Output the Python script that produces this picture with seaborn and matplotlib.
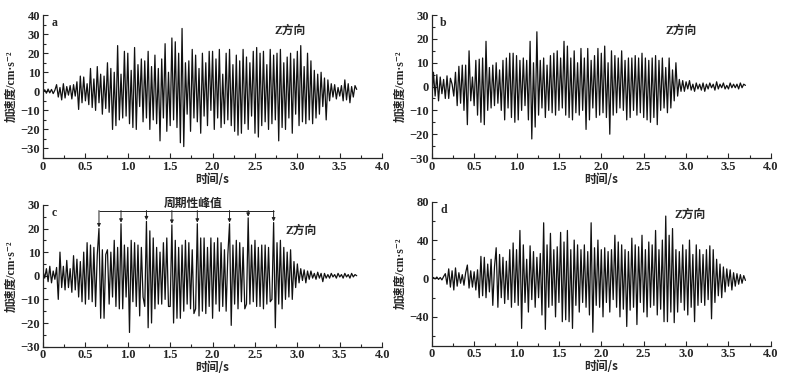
import numpy as np
import matplotlib
matplotlib.use("Agg")
import matplotlib.pyplot as plt
import seaborn as sns
from matplotlib.ticker import MultipleLocator

# --- du lieu gia toc (doc tu hinh), buoc thoi gian 0.02 s ---
dt = 0.02

acc_a = [
    0, 0.8, -1.0, 1.2, -0.8, 1.0, -1.2, 0.6, 3.5, -3.0,
    2.0, -4.5, 4.0, -3.5, 2.5, -2.0, 3.0, -4.0, 3.5, -2.5,
    5.0, -9.5, 8.0, -6.0, 7.5, -5.0, 4.0, -7.0, 12.0, -8.5,
    6.5, -10.0, 13.0, -6.0, 9.0, -12.0, 8.0, -9.0, 15.0, -11.0,
    12.0, -20.0, 10.0, -18.0, 24.0, -15.0, 9.0, -14.0, 21.0, -13.0,
    20.0, -17.0, 11.0, -19.0, 23.0, -20.0, 14.0, -8.0, 17.0, -16.0,
    16.0, -14.0, 21.0, -20.0, 13.0, -15.0, 19.0, -17.0, 12.0, -26.0,
    17.0, -14.0, 25.0, -21.0, 10.0, -18.0, 28.0, -15.0, 26.0, -19.0,
    20.0, -27.0, 33.0, -29.0, 15.0, -12.0, 16.0, -21.0, 22.0, -14.0,
    19.0, -16.0, 12.0, -22.0, 20.0, -13.0, 15.0, -18.0, 21.0, -10.0,
    21.0, -20.0, 17.0, -14.0, 22.0, -19.0, 9.0, -17.0, 20.0, -15.0,
    22.0, -18.0, 14.0, -21.0, 19.0, -23.0, 16.0, -22.0, 22.0, -17.0,
    18.0, -20.0, 15.0, -13.0, 21.0, -22.0, 23.0, -24.0, 20.0, -18.0,
    21.0, -16.0, 14.0, -20.0, 22.0, -17.0, 19.0, -15.0, 20.0, -26.0,
    22.0, -19.0, 15.0, -20.0, 18.0, -14.0, 20.0, -22.0, 17.0, -12.0,
    21.0, -18.0, 24.0, -16.0, 13.0, -17.0, 20.0, -15.0, 16.0, -17.0,
    11.0, -14.0, 9.0, -12.0, 10.0, -8.0, 7.0, -15.0, 6.0, -5.0,
    4.0, -3.0, 3.5, -4.0, 2.0, -2.5, 3.0, -5.0, 6.0, -4.5,
    4.0, -6.0, 2.5, -3.0, 3.0, 1.0,
]

acc_b = [
    -7.0, 6.0, -4.0, 5.0, -6.0, 4.0, -3.0, 3.0, -5.0, 4.5,
    -5.0, 3.5, 1.0, -4.0, 6.0, -8.0, 8.5, -7.0, 9.0, -10.0,
    9.0, -16.0, 15.0, -6.0, 4.0, -8.0, 11.0, -12.0, 11.5, -15.0,
    12.0, -16.0, 19.0, -10.0, 8.0, -9.0, 9.0, -8.0, 10.0, -7.0,
    7.0, -10.0, 11.0, -14.0, 12.0, -9.0, 14.0, -13.0, 14.0, -15.0,
    13.0, -14.0, 11.0, -10.0, 12.0, -8.0, 11.0, -14.0, 19.0, -22.0,
    10.0, -17.0, 23.0, -12.0, 11.0, -9.0, 12.0, -13.0, 9.0, -10.0,
    13.0, -11.0, 14.0, -12.0, 15.0, -10.0, 12.0, -9.0, 19.0, -12.0,
    17.0, -13.0, 12.0, -14.0, 15.0, -11.0, 10.0, -12.0, 16.0, -10.0,
    12.0, -18.0, 16.0, -14.0, 11.0, -9.0, 13.0, -13.0, 16.0, -12.0,
    14.0, -11.0, 17.0, -13.0, 10.0, -20.0, 15.0, -12.0, 13.0, -11.0,
    12.0, -9.0, 15.0, -10.0, 11.0, -14.0, 12.0, -13.0, 12.0, -10.0,
    13.0, -12.0, 12.0, -11.0, 14.0, -13.0, 12.0, -14.0, 11.0, -15.0,
    12.0, -13.0, 13.0, -16.0, 11.0, -10.0, 12.0, -9.0, 8.0, -11.0,
    12.0, -9.0, 7.0, -6.0, 10.0, -4.0, 3.0, -2.0, 2.5, -2.0,
    2.0, -1.0, 2.5, -1.5, 1.0, -2.0, 1.5, -1.0, 1.0, -1.5,
    1.5, -2.0, 1.0, -1.0, 1.5, -0.5, 1.0, -1.5, 2.0, -1.0,
    1.0, -0.5, 1.5, -1.0, 0.5, -1.0, 1.5, -0.5, 1.0, -0.5,
    1.0, -1.0, 1.5, -0.5, 1.0, 0.5,
]

acc_c = [
    2.0, -1.0, 3.0, -2.5, 4.0, -3.0, 2.0, -1.5, 3.5, -10.0,
    10.0, -5.0, 4.0, -6.0, 6.5, -5.0, 3.0, -7.0, 8.5, -6.0,
    7.0, -9.0, 6.0, -11.0, 10.0, -12.0, 14.0, -10.0, 13.0, -11.0,
    12.0, -13.0, 9.0, 20.0, -18.0, 11.0, -18.0, 9.0, 11.0, -12.0,
    10.0, -9.0, 15.0, -13.0, 12.0, -14.0, 22.0, -14.0, 13.0, -9.0,
    12.0, -24.0, 15.0, -11.0, 14.0, -13.0, 13.0, -17.0, 12.0, -9.0,
    -13.0, 23.0, -22.0, 19.0, -20.0, 16.0, -14.0, 12.0, -12.0, 10.0,
    -12.0, 14.0, -10.0, 16.0, -13.0, -13.0, 21.5, -20.0, 15.0, -18.0,
    12.0, -18.0, 13.0, -15.0, 15.0, -12.0, 14.0, -14.0, 11.0, -16.0,
    -14.0, 22.0, -17.0, 16.0, -15.0, 16.0, -16.0, 12.0, -13.0, 16.0,
    -18.0, 14.0, -12.0, 16.0, -15.0, 14.0, -13.0, 11.0, -15.0, 9.0,
    22.0, -21.0, 13.0, -12.0, 15.0, -14.0, 14.0, -11.0, 12.0, -14.0,
    -12.0, 24.5, -12.0, 13.0, -11.0, 15.0, -13.0, 12.0, -13.0, 13.0,
    -14.0, 13.0, -12.0, 12.0, -11.0, -10.0, 22.5, -22.0, 14.0, -12.0,
    15.0, -14.0, 12.0, -10.0, 10.0, -9.0, 11.0, -10.0, 6.0, -5.0,
    5.0, -3.0, 3.0, -2.0, 2.5, -3.0, 2.0, -1.5, 2.0, -1.0,
    1.0, -1.5, 1.5, -1.0, 1.0, -2.5, 1.0, -1.0, 0.5, -1.0,
    1.0, -0.5, 0.5, -1.0, 1.0, -0.5, 0.5, -1.0, 1.0, -0.5,
    0.5, -1.0, 1.0, -0.5, 0.5, 0.0,
]

acc_d = [
    0, 1.0, -0.5, 1.5, -1.0, 1.0, -1.5, 2.0, 5.0, -6.0,
    10.0, -9.0, 8.0, -12.0, 11.0, -8.0, 6.0, -5.0, 4.0, -7.0,
    6.0, 14.0, -10.0, 8.0, -9.0, 7.0, -12.0, 9.0, -20.0, 23.0,
    -18.0, 22.0, -20.0, 15.0, -14.0, 20.0, -28.0, 12.0, 32.0, -30.0,
    25.0, -20.0, 22.0, -26.0, 18.0, -22.0, 30.0, -30.0, 37.0, -25.0,
    30.0, -28.0, 50.0, -52.0, 35.0, -25.0, 20.0, -35.0, 34.0, -22.0,
    28.0, -30.0, 22.0, -20.0, 26.0, -38.0, 58.0, -53.0, 35.0, -30.0,
    47.0, -28.0, 30.0, -40.0, 33.0, -25.0, 48.0, -45.0, 38.0, -43.0,
    50.0, -45.0, 30.0, -52.0, 40.0, -28.0, 35.0, -35.0, 30.0, -25.0,
    35.0, -30.0, 28.0, -38.0, 58.0, -56.0, 32.0, -28.0, 40.0, -30.0,
    30.0, -40.0, 32.0, -25.0, 28.0, -35.0, 30.0, -22.0, 45.0, -30.0,
    38.0, -40.0, 35.0, -32.0, 30.0, -50.0, 28.0, -33.0, 42.0, -30.0,
    35.0, -48.0, 33.0, -25.0, 45.0, -35.0, 30.0, -40.0, 38.0, -30.0,
    35.0, -28.0, 50.0, -38.0, 30.0, -32.0, 40.0, -45.0, 65.0, -45.0,
    45.0, -35.0, 52.0, -46.0, 30.0, -35.0, 28.0, -25.0, 35.0, -33.0,
    30.0, -38.0, 40.0, -30.0, 25.0, -45.0, 35.0, -28.0, 30.0, -25.0,
    25.0, -28.0, 30.0, -22.0, 34.0, -42.0, 30.0, -25.0, 20.0, -18.0,
    15.0, -20.0, 12.0, -14.0, 10.0, -8.0, 9.0, -12.0, 6.0, -8.0,
    5.0, -6.0, 4.0, -5.0, 3.0, -2.0,
]

# thoi diem cac dinh tuan hoan (hinh c)
peak_times = [0.66, 0.92, 1.22, 1.52, 1.82, 2.20, 2.42, 2.72]

panel_letters = ['a', 'b', 'c', 'd']
y_limits = [(-35, 40), (-30, 30), (-30, 30), (-70, 80)]
y_major = [10, 10, 10, 40]
z_pos = [(0.73, 0.89), (0.734, 0.89), (0.76, 0.82), (0.762, 0.91)]

ylabel_text = '加速度/cm·s⁻²'
xlabel_text = '时间/s'
z_text = 'Z方向'
peak_label = '周期性峰值'

# --- ve ---
sns.set_style("ticks")
plt.rcParams['font.family'] = ['Liberation Serif', 'Noto Sans CJK SC', 'DejaVu Sans']
plt.rcParams['axes.unicode_minus'] = True
cjk = ['Noto Sans CJK SC', 'DejaVu Sans']
num_font = ['Liberation Serif', 'Noto Sans CJK SC', 'DejaVu Sans']

fig = plt.figure(figsize=(7.85, 3.78), dpi=100)
axes_rects = [
    [0.0548, 0.582, 0.432, 0.378],
    [0.550, 0.582, 0.432, 0.378],
    [0.0548, 0.083, 0.432, 0.375],
    [0.550, 0.0855, 0.432, 0.381],
]

signals = [acc_a, acc_b, acc_c, acc_d]
for i, acc in enumerate(signals):
    ax = fig.add_axes(axes_rects[i])
    time = np.arange(len(acc)) * dt
    sns.lineplot(x=time, y=acc, ax=ax, color='#111111', linewidth=0.9,
                 estimator=None, sort=False)
    ax.set_xlim(0, 4.0)
    ax.set_ylim(*y_limits[i])
    ax.xaxis.set_minor_locator(MultipleLocator(0.25))
    ax.yaxis.set_major_locator(MultipleLocator(y_major[i]))
    ax.yaxis.set_minor_locator(MultipleLocator(y_major[i] / 2))
    ax.set_xticks(np.arange(0, 4.01, 0.5))
    ax.set_xticklabels(['0'] + [f'{v:.1f}' for v in np.arange(0.5, 4.01, 0.5)])
    ax.tick_params(which='both', direction='in', width=0.8, labelsize=9, pad=2)
    ax.tick_params(which='major', length=3.5)
    ax.tick_params(which='minor', length=2)
    for lab in ax.get_xticklabels() + ax.get_yticklabels():
        lab.set_fontweight('bold')
        lab.set_family(num_font)
    sns.despine(ax=ax)
    for sp in ['left', 'bottom']:
        ax.spines[sp].set_linewidth(0.9)
    ax.set_xlabel(xlabel_text, family=cjk, fontsize=8.5, fontweight='bold', labelpad=0)
    ax.set_ylabel(ylabel_text, family=num_font, fontsize=8.5, fontweight='bold', labelpad=2)
    ax.text(0.025, 0.985, panel_letters[i], transform=ax.transAxes, va='top',
            ha='left', fontsize=8.5, fontweight='bold', family=num_font)
    ax.text(z_pos[i][0], z_pos[i][1], z_text, transform=ax.transAxes, va='center',
            ha='center', fontsize=8.5, fontweight='bold', family=num_font)

    if panel_letters[i] == 'c':
        bracket_y = 27.6
        ax.hlines(bracket_y, peak_times[0], peak_times[-1], color='#222222',
                  linewidth=0.7, clip_on=False)
        for pt in peak_times:
            peak_val = acc[int(round(pt / dt))]
            ax.annotate('', xy=(pt, peak_val + 0.5), xytext=(pt, bracket_y),
                        arrowprops=dict(arrowstyle='-|>', color='#222222', lw=0.7,
                                        mutation_scale=5, shrinkA=0, shrinkB=0),
                        annotation_clip=False)
        ax.text(1.77, 30.8, peak_label, ha='center', va='center', fontsize=8.5,
                fontweight='bold', family=cjk, clip_on=False)

fig.savefig('out.png', dpi=100)
print("saved out.png")
